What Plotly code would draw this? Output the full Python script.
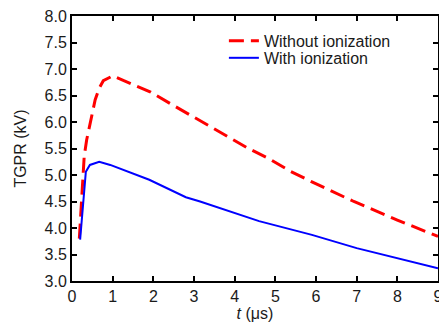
import plotly.graph_objects as go

# Without ionization (red dashed)
t_without = [0.18, 0.30, 0.36, 0.46, 0.57, 0.67, 0.77, 1.00, 1.43, 1.92, 2.41, 2.91, 3.55, 3.89, 4.34, 4.84, 5.37, 5.90, 6.93, 8.00, 9.00]
v_without = [3.80, 5.35, 5.66, 6.04, 6.42, 6.64, 6.78, 6.87, 6.73, 6.57, 6.35, 6.13, 5.84, 5.69, 5.50, 5.31, 5.07, 4.87, 4.50, 4.15, 3.84]

# With ionization (blue solid)
t_with = [0.20, 0.34, 0.44, 0.67, 0.94, 1.90, 2.80, 3.15, 4.60, 5.90, 7.00, 9.00]
v_with = [3.78, 5.06, 5.19, 5.25, 5.19, 4.91, 4.58, 4.50, 4.13, 3.87, 3.62, 3.24]

names = ["Without ionization", "With ionization"]

fig = go.Figure()
fig.add_trace(go.Scatter(x=t_without, y=v_without, mode="lines", name=names[0],
                         line=dict(color="#ff0000", width=3, dash="15px,7px"),
                         legend="legend"))
fig.add_trace(go.Scatter(x=t_with, y=v_with, mode="lines", name=names[1],
                         line=dict(color="#0000ff", width=2),
                         legend="legend2"))

axis_common = dict(showline=True, linecolor="black", linewidth=2, mirror="ticks",
                   ticks="inside", ticklen=5, tickwidth=1.5, tickcolor="black",
                   showgrid=False, zeroline=False, automargin=False,
                   ticklabeloverflow="allow",
                   tickfont=dict(family="Liberation Sans, Arial", size=16, color="#1a1a1a"))

fig.update_layout(
    width=439, height=325,
    margin=dict(l=72, r=1, t=16, b=44, autoexpand=False),
    paper_bgcolor="white", plot_bgcolor="white",
    font=dict(family="Liberation Sans, Arial", size=16, color="#1a1a1a"),
    xaxis=dict(range=[0, 9], dtick=1, tick0=0,
               title=dict(text="<i>t</i> (μs)", font=dict(size=16), standoff=0),
               **axis_common),
    yaxis=dict(range=[3.0, 8.0], dtick=0.5, tick0=3.0, tickformat=".1f",
               title=dict(text="TGPR (kV)", font=dict(size=16), standoff=14),
               **axis_common),
    legend=dict(x=0.415, y=0.97, xanchor="left", yanchor="top",
                bgcolor="rgba(0,0,0,0)", font=dict(size=16), itemwidth=30),
    legend2=dict(x=0.415, y=0.906, xanchor="left", yanchor="top",
                 bgcolor="rgba(0,0,0,0)", font=dict(size=16), itemwidth=30),
    showlegend=True,
)

fig.write_html("out.html", config={"displayModeBar": False},
               post_script="document.body.style.margin='0';document.body.style.overflow='hidden';")
